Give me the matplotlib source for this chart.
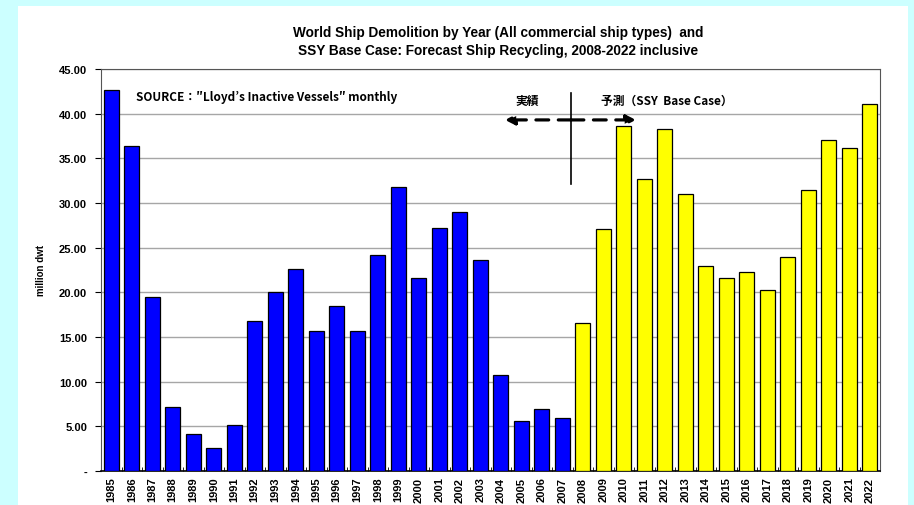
import numpy as np
import matplotlib.pyplot as plt
from matplotlib.patches import Rectangle

years = list(range(1985, 2023))
actual = [42.6, 36.4, 19.5, 7.2, 4.1, 2.6, 5.1, 16.8, 20.0, 22.6, 15.7, 18.5,
          15.7, 24.2, 31.8, 21.6, 27.2, 29.0, 23.6, 10.7, 5.6, 6.9, 5.9]
forecast = [16.6, 27.1, 38.6, 32.7, 38.3, 31.0, 22.9, 21.6, 22.3, 20.3, 23.9,
            31.5, 37.0, 36.2, 41.1]
yticks = [0, 5, 10, 15, 20, 25, 30, 35, 40, 45]
ytick_labels = ["-"] + ["{:.2f}".format(v) for v in yticks[1:]]

plt.rcParams['font.family'] = ['Liberation Sans', 'Noto Sans CJK JP', 'DejaVu Sans']
jp = ['Noto Sans CJK JP', 'DejaVu Sans']

fig = plt.figure(figsize=(9.14, 5.06), dpi=100)
fig.patch.set_facecolor('#CCFFFF')
fig.patches.append(Rectangle((18 / 914, 0), (908 - 18) / 914, 1 - 7 / 506,
                             transform=fig.transFigure, facecolor='white',
                             edgecolor='none', zorder=-10))

ax = fig.add_axes([101 / 914, 1 - 472 / 506, (880 - 101) / 914, (472 - 70) / 506])
ax.set_facecolor('white')

x_act = np.arange(len(actual))
x_fc = np.arange(len(actual), len(years))
ax.bar(x_act, actual, width=0.72, color='#0000FF', edgecolor='black', linewidth=0.9, zorder=3)
ax.bar(x_fc, forecast, width=0.72, color='#FFFF00', edgecolor='black', linewidth=0.9, zorder=3)

ax.set_xlim(-0.5, len(years) - 0.5)
ax.set_ylim(0, 45)
ax.set_yticks(yticks)
ax.set_yticklabels(ytick_labels, fontsize=8, fontweight='bold')
ax.set_xticks(np.arange(len(years)))
ax.set_xticklabels([str(y) for y in years], rotation=90, fontsize=8, fontweight='bold')
ax.tick_params(axis='x', length=0, pad=4)
ax.set_xticks(np.arange(len(years) + 1) - 0.5, minor=True)
ax.tick_params(axis='x', which='minor', length=3, direction='in')
ax.tick_params(axis='y', length=4, direction='out', pad=6)
ax.yaxis.grid(True, color='#A6A6A6', linewidth=1, zorder=0)
ax.set_axisbelow(True)
for s in ax.spines.values():
    s.set_color('#555555')
ax.spines['bottom'].set_color('black')
ax.spines['bottom'].set_linewidth(1.2)

ax.set_ylabel('million dwt', fontsize=7, fontweight='bold', labelpad=9)

fig.text(0.545, 1 - 42 / 506, 'World Ship Demolition by Year (All commercial ship types)  and\n'
         'SSY Base Case: Forecast Ship Recycling, 2008-2022 inclusive',
         ha='center', va='center', fontsize=9.8, fontweight='bold', linespacing=1.3)

ax.text(1.2, 41.9, 'SOURCE：\u2033Lloyd\u2019s Inactive Vessels\u2033 monthly',
        fontsize=8.5, fontweight='bold', va='center', family=jp)

# actual / forecast divider
ax.plot([22.43, 22.43], [32.1, 42.3], color='black', linewidth=1.2, zorder=4)
arrow_style = dict(arrowstyle='-|>', linestyle=(0, (4, 3)), color='black', lw=2.3,
                   mutation_scale=14, shrinkA=0, shrinkB=0)
ax.annotate('', xy=(19.2, 39.3), xytext=(22.43, 39.3), arrowprops=arrow_style, zorder=4)
ax.annotate('', xy=(25.6, 39.3), xytext=(22.43, 39.3), arrowprops=arrow_style, zorder=4)
ax.text(20.3, 41.5, '実績', fontsize=8.5, fontweight='bold', ha='center', va='center', family=jp)
ax.text(23.9, 41.5, '予測（SSY  Base Case）', fontsize=8.5, fontweight='bold',
        ha='left', va='center', family=jp)

fig.savefig('out.png', dpi=100, facecolor=fig.get_facecolor())
